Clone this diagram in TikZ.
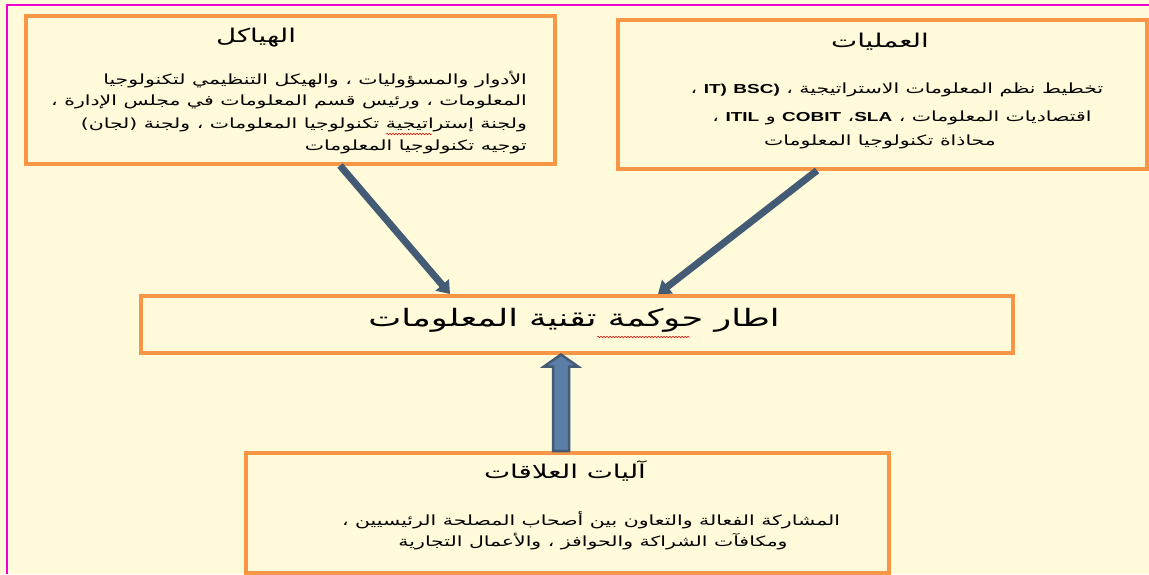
\documentclass[tikz,border=0pt]{standalone}
\usepackage{fontspec}
\usetikzlibrary{arrows.meta,calc,decorations.pathmorphing}
\TeXXeTstate=1
\newfontfamily\arabicfont[Script=Arabic, FakeStretch=1.46]{DejaVu Sans}
\newfontfamily\latinfont[FakeStretch=1.46]{Liberation Sans}
\newcommand\artext[1]{{\arabicfont\beginR #1\endR}}
% each Latin word boxed on its own so it keeps left-to-right order
\newcommand\lat[1]{\hbox{\latinfont\bfseries\fontsize{13}{16}\selectfont #1}}
\definecolor{paper}{HTML}{FFFAD9}
\definecolor{frameorange}{HTML}{F79646}
\definecolor{slate}{HTML}{435B74}
\definecolor{slatefill}{HTML}{5A7EA6}
\definecolor{pinkedge}{HTML}{F000D0}
\tikzset{
  panel/.style={draw=frameorange, line width=3.5pt, fill=paper, inner sep=0pt, anchor=north west},
  heading/.style={inner sep=0pt, font=\fontsize{19}{22}\selectfont, text=black},
  bodyline/.style={inner sep=0pt, font=\fontsize{14}{16}\selectfont, text=black},
  maintitle/.style={inner sep=0pt, font=\fontsize{24}{28}\selectfont, text=black},
  feed/.style={draw=slate, line width=7pt, -{Triangle[length=12pt,width=17pt]}},
  spell/.style={draw=red!85!black, line width=0.5pt, decorate,
    decoration={snake, segment length=3pt, amplitude=0.8pt}}
}
\begin{document}
\begin{tikzpicture}[x=1pt,y=-1pt]
% page
\useasboundingbox (0,0) rectangle (1149,574);
\fill[paper] (0,0) rectangle (1149,574);
\draw[pinkedge, line width=1.2pt] (7,574) -- (7,5) -- (1149,5);

% panels
\node[panel, minimum width=529pt, minimum height=148pt] (struct) at (24,14) {};
\node[panel, minimum width=529pt, minimum height=149pt] (proc) at (616,18) {};
\node[panel, minimum width=872pt, minimum height=57pt] (frame) at (139,294) {};
\node[panel, minimum width=643pt, minimum height=120pt] (rel) at (244,451) {};

% structures panel
\node[heading] (structT) at (256,38) {\artext{الهياكل}};
\node[bodyline, anchor=east] (s1) at (527,80) {\artext{الأدوار والمسؤوليات ، والهيكل التنظيمي لتكنولوجيا}};
\node[bodyline, anchor=east] (s2) at (527,102) {\artext{المعلومات ، ورئيس قسم المعلومات في مجلس الإدارة ،}};
\node[bodyline, anchor=east] (s3) at (527,125) {\artext{ولجنة إستراتيجية تكنولوجيا المعلومات ، ولجنة (لجان)}};
\node[bodyline, anchor=east] (s4) at (527,147) {\artext{توجيه تكنولوجيا المعلومات}};
\draw[spell] (386,134) -- (432,134);

% processes panel
\node[heading] (procT) at (880,42) {\artext{العمليات}};
\node[bodyline] (p1) at (897,90) {\artext{تخطيط نظم المعلومات الاستراتيجية ، \lat{BSC)} \lat{IT)} ،}};
\node[bodyline] (p2) at (902,118) {\artext{اقتصاديات المعلومات ، \lat{SLA}، \lat{COBIT} و \lat{ITIL} ،}};
\node[bodyline] (p3) at (880,142) {\artext{محاذاة تكنولوجيا المعلومات}};

% framework panel
\node[maintitle] (frameT) at (574,320) {\artext{اطار حوكمة تقنية المعلومات}};
\draw[spell] (597,337) -- (690,337);

% relational panel
\node[heading] (relT) at (565,471) {\artext{آليات العلاقات}};
\node[bodyline] (r1) at (591,520) {\artext{المشاركة الفعالة والتعاون بين أصحاب المصلحة الرئيسيين ،}};
\node[bodyline] (r2) at (593,542) {\artext{ومكافآت الشراكة والحوافز ، والأعمال التجارية}};

% connectors
\draw[feed] ([xshift=316pt]struct.south west) -- ([xshift=311pt]frame.north west);
\draw[feed] ([xshift=201pt]proc.south west) -- ([xshift=519pt]frame.north west);
\coordinate (ub) at ([xshift=317pt]rel.north west);
\coordinate (ut) at ([xshift=422pt]frame.south west);
\filldraw[fill=slatefill, draw=slate, line width=2.5pt, line join=miter]
  ($(ub)+(-8,0)$) -- ($(ut)+(-8,12)$) -- ($(ut)+(-17,12)$) -- (ut)
  -- ($(ut)+(17,12)$) -- ($(ut)+(8,12)$) -- ($(ub)+(8,0)$) -- cycle;
\end{tikzpicture}
\end{document}
